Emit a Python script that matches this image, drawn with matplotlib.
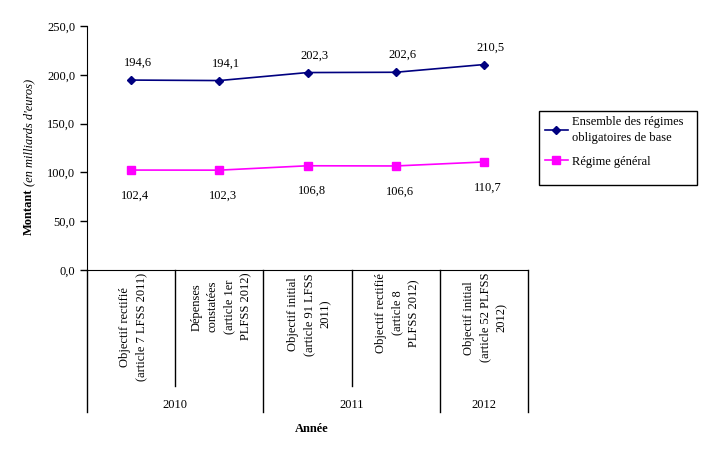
import numpy as np
import matplotlib.pyplot as plt
from matplotlib.ticker import FuncFormatter
from matplotlib.patches import Rectangle

plt.rcParams['font.family'] = ['Liberation Serif', 'DejaVu Serif']
plt.rcParams['font.size'] = 9

# data
categories = ["Objectif rectifié\n(article 7 LFSS 2011)",
              "Dépenses\nconstatées\n(article 1er\nPLFSS 2012)",
              "Objectif initial\n(article 91 LFSS\n2011)",
              "Objectif rectifié\n(article 8\nPLFSS 2012)",
              "Objectif initial\n(article 52 PLFSS\n2012)"]
years = ["2010", "2011", "2012"]
year_span = [(0, 1), (2, 3), (4, 4)]
ensemble = [194.6, 194.1, 202.3, 202.6, 210.5]
general = [102.4, 102.3, 106.8, 106.6, 110.7]
yticks = [0, 50, 100, 150, 200, 250]

x = np.arange(len(categories))

fig = plt.figure(figsize=(7.07, 4.55), dpi=100)
ax = fig.add_axes([87/707, 1-270/455, 441/707, 244/455])

ax.plot(x, ensemble, color='#000080', marker='D', markersize=4.5, lw=1.2,
        label='Ensemble des régimes\nobligatoires de base')
ax.plot(x, general, color='#FF00FF', marker='s', markersize=6, lw=1.2,
        label='Régime général')

for xi, v in zip(x, ensemble):
    ax.annotate(f"{v:.1f}".replace('.', ','), (xi, v), xytext=(5, 8),
                textcoords='offset points', ha='center', va='bottom')
for xi, v in zip(x, general):
    ax.annotate(f"{v:.1f}".replace('.', ','), (xi, v), xytext=(3, -14),
                textcoords='offset points', ha='center', va='top')

ax.set_xlim(-0.5, len(categories) - 0.5)
ax.set_ylim(0, 250)
ax.set_yticks(yticks)
ax.yaxis.set_major_formatter(FuncFormatter(lambda v, p: f"{v:.1f}".replace('.', ',')))
ax.tick_params(axis='y', direction='out', length=5, width=1, labelsize=9)
ax.set_xticks([])
for s in ['top', 'right']:
    ax.spines[s].set_visible(False)

# category table below axis
tr = ax.get_xaxis_transform()
for b in np.arange(-0.5, len(categories), 1.0):
    full = b in (-0.5, 1.5, 3.5, 4.5)
    ax.plot([b, b], [0, -0.582 if full else -0.475], transform=tr,
            color='black', lw=1, clip_on=False)
for xi, c in zip(x, categories):
    ax.text(xi + 0.02, -0.012, c, transform=tr, rotation=90, ha='center', va='top',
            multialignment='center', fontsize=9, linespacing=1.5)
for yr, (a, b) in zip(years, year_span):
    ax.text((a + b) / 2, -0.555, yr, transform=tr, ha='center', va='center', fontsize=9)
ax.text(0.51, -0.65, "Année", transform=ax.transAxes, ha='center', va='center',
        fontsize=9, fontweight='bold')

# y label
fig.text(29/707, 1-235/455, "Montant", rotation=90, ha='center', va='bottom',
         fontweight='bold', fontsize=9)
fig.text(29/707, 1-186/455, "(en milliards d'euros)", rotation=90, ha='center',
         va='bottom', fontstyle='italic', fontsize=9)

# legend, box drawn separately (extra space at the bottom like the original)
fig.patches.append(Rectangle((539/707, 1-185/455), 158/707, 74/455,
                             transform=fig.transFigure, fill=False,
                             edgecolor='black', lw=1))
leg = fig.legend(loc='upper left', bbox_to_anchor=(545/707, 1-116/455),
                 frameon=False, fontsize=9, handlelength=1.8, borderpad=0,
                 labelspacing=0.9, handletextpad=0.4, borderaxespad=0)
for t in leg.get_texts():
    t.set_linespacing(1.5)

fig.savefig('out.png', dpi=100)
